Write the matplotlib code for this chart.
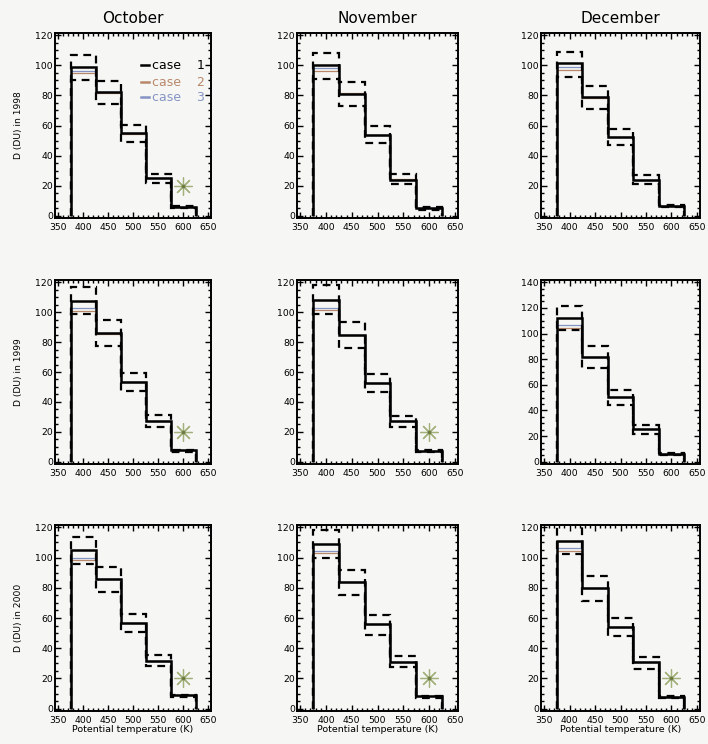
import matplotlib
matplotlib.use("Agg")
import matplotlib.pyplot as plt
from matplotlib.ticker import MultipleLocator

# bin edges of potential temperature (K)
edges = [375, 425, 475, 525, 575, 625]

months = ["October", "November", "December"]
years = ["1998", "1999", "2000"]

# case 1 (solid) and its upper / lower bounds (dashed), per year then month
case1 = [
    [[99, 82, 55, 25, 6], [100, 81, 54, 24, 5], [101.5, 79, 52.5, 24, 6.5]],
    [[107.5, 86, 53.5, 27, 7.7], [108, 84.5, 52.5, 27, 7.5], [112, 81.5, 50.5, 25.5, 6]],
    [[105, 86, 56.5, 31.5, 9], [108.8, 83.6, 56, 31, 8.5], [111, 80, 54, 31, 8]],
]
upper = [
    [[107, 89.5, 60.5, 28, 6.5], [108, 89, 60, 27.5, 6], [109, 86.5, 58, 27, 7]],
    [[117, 94.5, 59, 31, 8], [118, 93.5, 58.5, 30.5, 8], [121.5, 90, 56, 29, 6.5]],
    [[113.5, 94, 62.5, 35.5, 9], [118.5, 92, 62, 35, 8.5], [122, 88, 60, 34, 8.7]],
]
lower = [
    [[90.5, 74, 49, 22, 5], [91, 73, 48.5, 21, 4], [92.5, 71, 47, 21, 5.5]],
    [[98.5, 77.5, 47.5, 23.5, 6.5], [99, 76, 46.5, 23, 6.5], [102.5, 73, 44.5, 22, 5]],
    [[95.5, 77.5, 50.5, 28, 7.5], [99.5, 75.5, 49, 27.5, 7], [102, 71.5, 48, 26.5, 7.4]],
]
# cases 2 and 3 (thin coloured lines)
case2 = [
    [[95, 81.5, 54.5, 25, 6], [96, 81.5, 54, 24.5, 5], [97, 78.5, 52.5, 24, 6.5]],
    [[101, 85.5, 53.5, 27, 7.7], [101.5, 84.5, 52.5, 27, 7.5], [104.5, 81.5, 50.5, 25.5, 6]],
    [[98.5, 86, 56.5, 31.5, 9], [103, 83.6, 56, 31, 8.5], [104.5, 80, 54, 31, 8]],
]
case3 = [
    [[96.5, 82, 55, 25, 6], [98, 81, 54, 24, 5], [99, 79, 52.5, 24, 6.5]],
    [[103, 86, 53.5, 27, 7.7], [103, 84.5, 52.5, 27, 7.5], [107, 81.5, 50.5, 25.5, 6]],
    [[100, 86, 56.5, 31.5, 9], [104.5, 83.6, 56, 31, 8.5], [106, 80, 54, 31, 8]],
]
# observed value at 600 K (None where not shown)
obs_x = 600
obs = [
    [20, None, None],
    [20, 20, None],
    [20, 20, 20],
]
ytop = [[120, 120, 120], [120, 120, 140], [120, 120, 120]]

bg = "#f6f7f4"
c2_color = "#b8876a"
c3_color = "#8593c4"
obs_color = "#a3b07c"

fig = plt.figure(figsize=(7.08, 7.44), dpi=100, facecolor=bg)
W, H = 708.0, 744.0
col_px = [(55, 211), (297, 458), (541, 700)]
row_px = [(33, 218), (280, 464), (525, 711)]

for i, year in enumerate(years):
    for j, month in enumerate(months):
        x0, x1 = col_px[j]
        y0, y1 = row_px[i]
        ax = fig.add_axes([x0 / W, 1 - y1 / H, (x1 - x0) / W, (y1 - y0) / H])
        ax.set_facecolor(bg)

        ax.stairs(case2[i][j], edges, baseline=0, color=c2_color, lw=0.9, zorder=2)
        ax.stairs(case3[i][j], edges, baseline=0, color=c3_color, lw=0.9, zorder=2)
        for bound in (upper, lower):
            ax.stairs(bound[i][j], edges, baseline=0, color="black", lw=1.6,
                      linestyle=(0, (3.5, 2.5)), zorder=3)
        ax.stairs(case1[i][j], edges, baseline=0, color="black", lw=1.8, zorder=4)

        if obs[i][j] is not None:
            ax.plot([obs_x], [obs[i][j]], marker=(8, 2, 0), ms=13, mew=0.9,
                    color=obs_color, zorder=5)
            ax.plot([obs_x], [obs[i][j]], marker="o", ms=1.5, color="#6d7a45", zorder=6)

        top = ytop[i][j]
        ax.set_xlim(344, 656)
        ax.set_ylim(-0.0125 * top, 1.0125 * top)
        ax.xaxis.set_major_locator(MultipleLocator(50))
        ax.xaxis.set_minor_locator(MultipleLocator(10))
        ax.yaxis.set_major_locator(MultipleLocator(20))
        ax.yaxis.set_minor_locator(MultipleLocator(5))
        ax.tick_params(which="both", direction="in", top=True, right=True,
                       labelsize=6.7, width=1)
        ax.tick_params(axis="x", pad=3.5)
        ax.tick_params(axis="y", pad=1.5)
        ax.tick_params(which="major", length=4)
        ax.tick_params(which="minor", length=2)
        for s in ax.spines.values():
            s.set_linewidth(1.4)

        if i == 0:
            ax.set_title(month, fontsize=11, pad=7)
        if j == 0:
            ax.set_ylabel("D (DU) in " + year, fontsize=6.6, labelpad=9)
        if i == 2:
            ax.set_xlabel("Potential temperature (K)", fontsize=6.8, labelpad=0)

        if i == 0 and j == 0:
            labels = ["case    1", "case    2", "case    3"]
            colors = ["black", c2_color, c3_color]
            ys = [0.827, 0.735, 0.652]
            for lab, col, yy in zip(labels, colors, ys):
                ax.plot([0.55, 0.6], [yy, yy], color=col, lw=1.8,
                        transform=ax.transAxes, clip_on=False)
                ax.text(0.625, yy, lab, color=col, fontsize=9, va="center",
                        ha="left", transform=ax.transAxes)

fig.savefig("out.png", dpi=100, facecolor=bg)
